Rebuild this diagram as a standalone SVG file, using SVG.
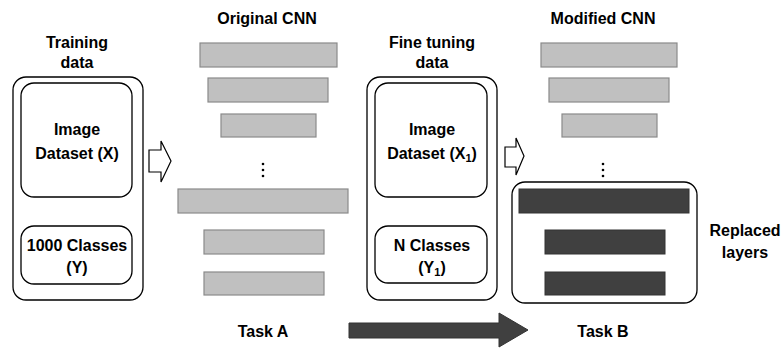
<svg xmlns="http://www.w3.org/2000/svg" width="783" height="349" viewBox="0 0 783 349">
<style>
text{font-family:"Liberation Sans",Arial,sans-serif;font-weight:bold;font-size:16px;fill:#000;text-anchor:middle}
.box{fill:#fff;stroke:#000;stroke-width:1.3}
.bar{fill:#c0c0c0;stroke:#8a8a8a;stroke-width:1.2}
.dark{fill:#404040;stroke:#333;stroke-width:1}
.hollow{fill:#fff;stroke:#000;stroke-width:1.2;stroke-linejoin:miter}
.sub{font-size:11px}
</style>
<rect width="783" height="349" fill="#fff"/>
<g id="training-data">
<text x="77" y="48">Training</text>
<text x="77" y="68">data</text>
<rect class="box" x="13" y="77" width="130" height="223" rx="13"/>
<g id="image-dataset-x">
<rect class="box" x="21" y="83" width="111" height="114" rx="13"/>
<text x="77" y="135">Image</text>
<text x="77" y="159">Dataset (X)</text>
</g>
<g id="classes-y">
<rect class="box" x="21" y="226" width="111" height="58" rx="13"/>
<text x="77" y="251">1000 Classes</text>
<text x="77" y="273">(Y)</text>
</g>
</g>
<g id="original-cnn">
<text x="267" y="24">Original CNN</text>
<rect class="bar" x="200" y="43" width="137" height="24"/>
<rect class="bar" x="208" y="78" width="120" height="24"/>
<rect class="bar" x="221" y="114" width="95" height="23"/>
<g fill="#000"><circle cx="263" cy="164" r="1.3"/><circle cx="263" cy="170" r="1.3"/><circle cx="263" cy="176" r="1.3"/></g>
<rect class="bar" x="178" y="189" width="170" height="24"/>
<rect class="bar" x="204" y="230" width="120" height="24"/>
<rect class="bar" x="204" y="272" width="120" height="23"/>
<text x="263" y="337">Task A</text>
</g>
<g id="fine-tuning-data">
<text x="432" y="48">Fine tuning</text>
<text x="432" y="68">data</text>
<rect class="box" x="367" y="77" width="130" height="223" rx="13"/>
<g id="image-dataset-x1">
<rect class="box" x="375" y="83" width="112" height="114" rx="13"/>
<text x="432" y="135">Image</text>
<text x="432" y="159">Dataset (X<tspan class="sub" dy="3">1</tspan><tspan dy="-3">)</tspan></text>
</g>
<g id="classes-y1">
<rect class="box" x="375" y="226" width="112" height="57" rx="13"/>
<text x="432" y="251">N Classes</text>
<text x="432" y="273">(Y<tspan class="sub" dy="3">1</tspan><tspan dy="-3">)</tspan></text>
</g>
</g>
<g id="modified-cnn">
<text x="603" y="24">Modified CNN</text>
<rect class="bar" x="541" y="43" width="136" height="24"/>
<rect class="bar" x="549" y="78" width="120" height="24"/>
<rect class="bar" x="562" y="114" width="95" height="23"/>
<g fill="#000"><circle cx="603" cy="164" r="1.3"/><circle cx="603" cy="170" r="1.3"/><circle cx="603" cy="176" r="1.3"/></g>
<g id="replaced-layers">
<rect class="box" x="512" y="182" width="185" height="121" rx="13"/>
<rect class="dark" x="519" y="189" width="170" height="24"/>
<rect class="dark" x="545" y="230" width="120" height="24"/>
<rect class="dark" x="545" y="272" width="120" height="23"/>
<text x="745" y="236">Replaced</text>
<text x="745" y="258">layers</text>
</g>
<text x="603" y="337">Task B</text>
</g>
<g id="connectors">
<path class="hollow" d="M149,150 H161 V141 L171,161 L161,182 V172 H149 Z"/>
<path class="hollow" d="M505,147 H516 V138 L524,156 L516,175 V167 H505 Z"/>
<path d="M349,323 H499 V313 L528,330 L499,347 V338 H349 Z" fill="#404040" stroke="#333" stroke-width="1"/>
</g>
</svg>
